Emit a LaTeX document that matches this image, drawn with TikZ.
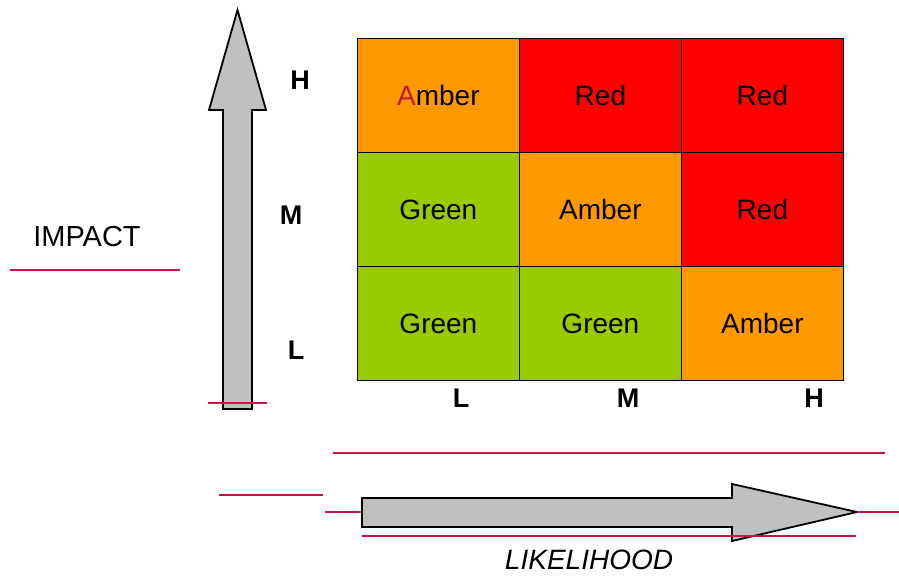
\documentclass[tikz,border=0pt]{standalone}
\usepackage{fontspec}
\setmainfont{Liberation Sans}
\definecolor{amber}{HTML}{FF9900}
\definecolor{redc}{HTML}{FF0000}
\definecolor{greenc}{HTML}{99CC00}
\definecolor{crim}{HTML}{C4163F}
\definecolor{arrowgray}{HTML}{C0C0C0}
\begin{document}
\begin{tikzpicture}[x=1pt,y=-1pt,
  cell/.style={draw=black,line width=0.8pt,minimum width=162pt,minimum height=114pt,inner sep=0pt,anchor=north west,font=\fontsize{28}{30}\selectfont},
  lvl/.style={font=\fontsize{27}{29}\selectfont\bfseries},
  guide/.style={draw=crim,line width=1.4pt},
  bigarrow/.style={draw=black,fill=arrowgray,line width=1.8pt,line join=miter}]
\useasboundingbox (0,0) rectangle (899,581);
% grid
\node[cell,fill=amber] (c11) at (357,38) {{\color{crim}A}mber};
\node[cell,fill=redc] (c12) at (519,38) {Red};
\node[cell,fill=redc] (c13) at (681,38) {Red};
\node[cell,fill=greenc] (c21) at (357,152) {Green};
\node[cell,fill=amber] (c22) at (519,152) {Amber};
\node[cell,fill=redc] (c23) at (681,152) {Red};
\node[cell,fill=greenc] (c31) at (357,266) {Green};
\node[cell,fill=greenc] (c32) at (519,266) {Green};
\node[cell,fill=amber] (c33) at (681,266) {Amber};
% level labels
\node[lvl] (yH) at (300,80) {H};
\node[lvl] (yM) at (291,215) {M};
\node[lvl] (yL) at (296,350) {L};
\node[lvl] (xL) at (461,398) {L};
\node[lvl] (xM) at (628,398) {M};
\node[lvl] (xH) at (814,398) {H};
% vertical arrow
\draw[bigarrow] (223,409) -- (223,110) -- (209,110) -- (237.5,10) -- (266,110) -- (252,110) -- (252,409) -- cycle;
\draw[guide] (208,403) -- (267,403);
% impact
\node[font=\fontsize{29}{31}\selectfont] (impact) at (87,237) {IMPACT};
\draw[guide] (10,270) -- (180,270);
% horizontal arrow
\draw[guide] (333,453) -- (885,453);
\draw[guide] (219,495) -- (323,495);
\draw[guide] (325,512) -- (362,512);
\draw[bigarrow] (362,498) -- (732,498) -- (732,484) -- (857,512) -- (732,541) -- (732,527) -- (362,527) -- cycle;
\draw[guide] (857,512) -- (899,512);
\draw[guide] (362,536) -- (856,536);
\node[font=\fontsize{28}{30}\selectfont\itshape] (likelihood) at (589,560) {LIKELIHOOD};
\end{tikzpicture}
\end{document}
